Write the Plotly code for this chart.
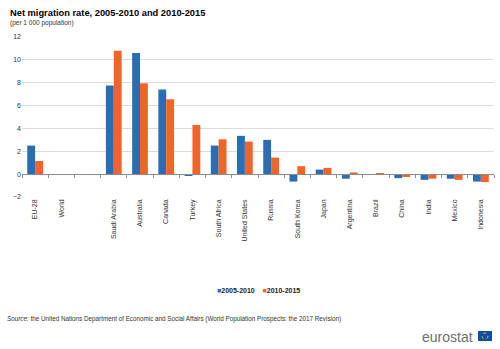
import plotly.graph_objects as go

# Net migration rate per 1 000 population
countries = ["EU-28", "World", " ", "Saudi Arabia", "Australia", "Canada", "Turkey",
             "South Africa", "United States", "Russia", "South Korea", "Japan",
             "Argentina", "Brazil", "China", "India", "Mexico", "Indonesia"]
rate_2005_2010 = [2.5, 0.0, None, 7.75, 10.6, 7.4, -0.15, 2.5, 3.35, 3.0, -0.65, 0.4,
                  -0.4, 0.0, -0.35, -0.5, -0.4, -0.65]
rate_2010_2015 = [1.15, 0.0, None, 10.8, 7.95, 6.55, 4.3, 3.05, 2.85, 1.45, 0.7, 0.55,
                  0.15, 0.07, -0.25, -0.4, -0.5, -0.7]
periods = ["2005-2010", "2010-2015"]
y_ticks = [-2, 0, 2, 4, 6, 8, 10, 12]

BLUE = "#2a6db5"
ORANGE = "#f0642a"
FONT = "Liberation Sans, Arial, sans-serif"
colors = [BLUE, ORANGE]

fig = go.Figure()
for name, vals, col in zip(periods, [rate_2005_2010, rate_2010_2015], colors):
    fig.add_trace(go.Bar(x=countries, y=vals, name=name, showlegend=False,
                         marker=dict(color=col, line=dict(width=0))))

# invisible helper so the zero-line axis carries the same categories
fig.add_trace(go.Scatter(x=countries, y=[0] * len(countries), xaxis="x2", mode="markers",
                         marker=dict(opacity=0), showlegend=False, hoverinfo="skip"))

fig.update_layout(
    width=500, height=349,
    margin=dict(l=22, r=6, t=37, b=152),
    paper_bgcolor="white", plot_bgcolor="white",
    font=dict(family=FONT, size=7, color="#333333"),
    barmode="group", bargap=0.4, bargroupgap=0.0,
    showlegend=False,
    xaxis=dict(type="category", categoryorder="array", categoryarray=countries,
               range=[-0.5, len(countries) - 0.5],
               tickangle=-90, ticks="", showline=False, showgrid=False,
               tickfont=dict(size=7, color="#333333")),
    xaxis2=dict(type="category", categoryorder="array", categoryarray=countries,
                range=[-0.5, len(countries) - 0.5],
                overlaying="x", anchor="free", position=2 / 14,
                showticklabels=False, ticks="outside", ticklen=3, tickcolor="#8c8c8c",
                tickson="boundaries", showline=True, linecolor="#8c8c8c", linewidth=1,
                showgrid=False),
    yaxis=dict(range=[-2, 12], tickvals=y_ticks, showgrid=True, gridcolor="#dcdcdc",
               gridwidth=1, zeroline=False, showline=False, ticks="",
               tickfont=dict(size=7, color="#333333")),
)

# legend row: coloured square keys followed by the period names
legend_text = "&nbsp;&nbsp;&nbsp;&nbsp;".join(
    f"<span style='color:{c}'>■</span><b>{p}</b>" for p, c in zip(periods, colors))
fig.add_annotation(text=legend_text, xref="paper", yref="paper",
                   x=(258 - 22) / 472, y=(197 - 290) / 160, xanchor="center",
                   yanchor="middle", showarrow=False,
                   font=dict(family=FONT, size=7, color="#222222"))

# titles
fig.add_annotation(text="<b>Net migration rate, 2005-2010 and 2010-2015</b>",
                   xref="paper", yref="paper", x=-0.03, y=1.15, xanchor="left",
                   yanchor="middle", showarrow=False,
                   font=dict(family=FONT, size=9.3, color="#000000"))
fig.add_annotation(text="(per 1 000 population)",
                   xref="paper", yref="paper", x=-0.03, y=1.085, xanchor="left",
                   yanchor="middle", showarrow=False,
                   font=dict(family=FONT, size=6.5, color="#333333"))

# source note
fig.add_annotation(text="<i>Source:</i> the United Nations Department of Economic and Social Affairs "
                        "(World Population Prospects: the 2017 Revision)",
                   xref="paper", yref="paper", x=-0.037, y=-0.763, xanchor="left",
                   yanchor="middle", showarrow=False,
                   font=dict(family=FONT, size=6.3, color="#333333"))

# eurostat logo
fig.add_annotation(text="eurostat", xref="paper", yref="paper",
                   x=(475 - 22) / 472, y=(197 - 337) / 160, xanchor="right",
                   yanchor="middle", showarrow=False,
                   font=dict(family=FONT, size=14, color="#6e6e6e"))
fig.add_shape(type="rect", xref="paper", yref="paper",
              x0=(478 - 22) / 472, x1=(492 - 22) / 472,
              y0=(197 - 341) / 160, y1=(197 - 331) / 160,
              fillcolor="#0d4fa6", line=dict(width=0))
fig.add_shape(type="circle", xref="paper", yref="paper",
              x0=(482 - 22) / 472, x1=(488 - 22) / 472,
              y0=(197 - 339) / 160, y1=(197 - 333) / 160,
              line=dict(color="#f5d200", width=1, dash="dot"))

fig.write_html("out.html")
